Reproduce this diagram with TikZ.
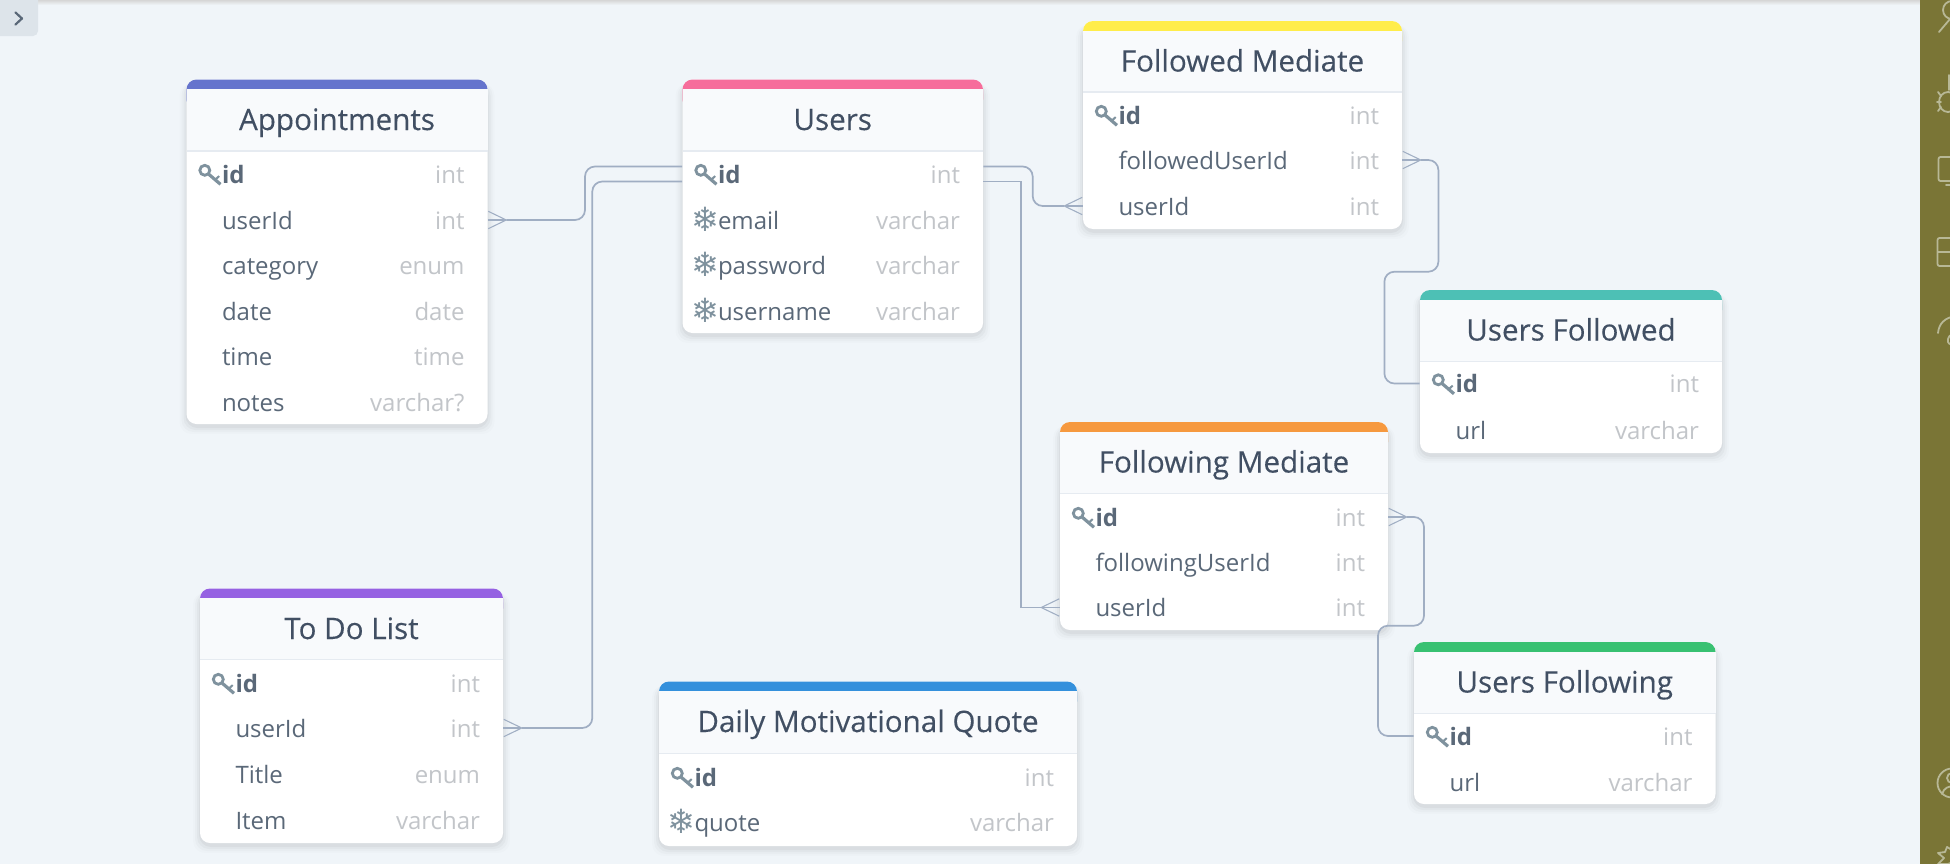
\documentclass[tikz,border=0pt]{standalone}
\usepackage{fontspec}
\setmainfont{Open Sans}
\newfontfamily\symfont{DejaVu Sans}
\newfontfamily\titlefont[FakeBold=0.25]{Open Sans}
\usetikzlibrary{arrows.meta}
\newdimen\px \px=0.75pt
\definecolor{bgc}{HTML}{F0F5F9}
\definecolor{headc}{HTML}{F8FAFC}
\definecolor{headline}{HTML}{E6EBF1}
\definecolor{titlec}{HTML}{414F63}
\definecolor{fieldc}{HTML}{5A6878}
\definecolor{typec}{HTML}{C2C5C9}
\definecolor{iconc}{HTML}{7F929E}
\definecolor{linec}{HTML}{A0AEC3}
\definecolor{sidec}{HTML}{7A7536}
\definecolor{sideicon}{HTML}{B8B896}
\definecolor{btnc}{HTML}{DDE4EA}
\definecolor{cindigo}{HTML}{6574CD}
\definecolor{cpink}{HTML}{F66D9B}
\definecolor{cyellow}{HTML}{FFED4A}
\definecolor{cteal}{HTML}{4DC0B5}
\definecolor{corange}{HTML}{F6993F}
\definecolor{cgreen}{HTML}{38C172}
\definecolor{cpurple}{HTML}{9561E2}
\definecolor{cblue}{HTML}{3490DC}
\tikzset{
  tablebody/.style={fill=white,rounded corners=10\px,draw=none},
  tablestrip/.style={rounded corners=10\px,draw=none},
  titlenode/.style={inner sep=0pt,anchor=base,text=titlec,font=\titlefont\fontsize{22.2}{26}\selectfont},
  rownode/.style={inner xsep=0pt,inner ysep=0pt,text height=24\px,text depth=6\px,text=fieldc,font=\fontsize{18}{22}\selectfont},
  conn/.style={draw=linec,line width=1.7\px,rounded corners=10\px},
  sharpconn/.style={draw=linec,line width=1.7\px},
  crow/.style={-{Straight Barb[reversed,length=13.5pt,width=13pt,line width=0.8pt]}},
  keyline/.style={draw=iconc,line width=1.8\px},
  sideline/.style={draw=sideicon,line width=1.8\px,line cap=round},
  pics/keyicon/.style={code={
    \draw[keyline,line width=2.8\px] (7.3,-3.7) circle (5);
    \draw[keyline,line width=3.2\px] (11,0) -- (23,10.3);
    \draw[keyline,line width=2\px] (17,6.5) -- (21.7,2);
  }}
}
% #1 x1 #2 x2 #3 top #4 header bottom #5 table bottom #6 colour
\newcommand{\ertable}[6]{%
  \foreach \s/\o in {7/.012,5/.018,3/.028,1/.035}{
    \fill[black,opacity=\o,rounded corners=12\px] (#1-\s,#3+4) rectangle (#2+\s,#5+3+\s);
  }
  \fill[tablebody] (#1,#3) rectangle (#2,#5);
  \fill[#6,tablestrip] (#1,#3) rectangle (#2,#3+30);
  \fill[headc] (#1,#3+9.5) rectangle (#2,#4);
  \draw[headline,line width=1.2\px] (#1,#4) -- (#2,#4);
}
% #1 name #2 x1 #3 x2 #4 table top #5 text
\newcommand{\ertitle}[5]{\node[titlenode] (#1) at ({(#2+#3)/2},#4+50.5) {#5};}
% #1 name #2 x1 #3 x2 #4 y #5 label #6 type
\newcommand{\fieldrow}[6]{%
  \pgfmathsetmacro\rowW{(#3-#2)*0.75}
  \node[rownode,text width=\rowW pt,anchor=center] (#1) at ({(#2+#3)/2},#4)
    {\hspace*{35.5\px}#5\hfill\textcolor{typec}{#6}\hspace*{23\px}};
}
\newcommand{\keyat}[2]{\pic at (#1+11,#2) {keyicon};}
\newcommand{\flakeat}[3]{\node[inner sep=0pt,text=iconc,font=\symfont\fontsize{25}{25}\selectfont] (#1) at (#2+22.5,#3-1) {❄};}
\begin{document}
\begin{tikzpicture}[x=0.75pt,y=-0.75pt]
\useasboundingbox (0,0) rectangle (1950,864);
\fill[bgc] (0,0) rectangle (1950,864);
% top shadow
\shade[top color=black!16,bottom color=bgc,draw=none] (0,0) rectangle (1920,5);
% sidebar
\fill[sidec] (1920,0) rectangle (1950,864);
\begin{scope}
\clip (1920,0) rectangle (1950,864);
\draw[sideline] (1939,32) -- (1950,19);
\draw[sideline] (1952,10) circle (9);
\draw[sideline] (1949,75) -- (1949,90);
\draw[sideline] (1948,102) ellipse (9 and 10);
\draw[sideline] (1938,92) -- (1941,96) (1937,102) -- (1941,102) (1938,111) -- (1941,107);
\draw[sideline,rounded corners=2\px] (1955,157) -- (1938.5,157) -- (1938.5,181) -- (1955,181);
\draw[sideline] (1946,185) -- (1955,185);
\draw[sideline,rounded corners=2\px] (1955,238) -- (1937.5,238) -- (1937.5,266) -- (1955,266);
\draw[sideline] (1938,252) -- (1955,252);
\draw[sideline] (1938,333) .. controls (1939,323) and (1945,318) .. (1955,316);
\draw[sideline] (1955,333) .. controls (1950,334) and (1947,338) .. (1948,342) .. controls (1949,345) and (1953,345) .. (1955,344);
\draw[sideline] (1952,783) circle (14.5);
\draw[sideline] (1952,778) circle (5);
\draw[sideline] (1942,794) .. controls (1944,788) and (1948,786) .. (1955,786);
\draw[sideline,line join=round] (1955,861) -- (1948,864) -- (1938,864) (1938,864) -- (1944,858) -- (1938,853) -- (1945,852) -- (1947,847) -- (1952,850);
\end{scope}
% collapse button
\fill[btnc,rounded corners=5\px] (-8,-8) rectangle (38,36);
\draw[draw=fieldc,line width=2.2\px,line cap=round,line join=round] (15.5,12.5) -- (22,18.5) -- (15.5,24.5);

% tables
\ertable{186.5}{487.5}{79.5}{151}{424}{cindigo}
\ertable{682.5}{983}{79.5}{151}{333}{cpink}
\ertable{1083}{1402}{21}{92}{229}{cyellow}
\ertable{1420}{1722}{290}{361.5}{453}{cteal}
\ertable{1060}{1388}{422}{493.5}{630}{corange}
\ertable{1414}{1715.5}{642}{713.5}{804}{cgreen}
\ertable{200}{503}{588.5}{659.5}{843}{cpurple}
\ertable{659}{1077}{681.5}{753.5}{846}{cblue}

\ertitle{tappt}{186.5}{487.5}{79.5}{Appointments}
\ertitle{tusers}{682.5}{983}{79.5}{Users}
\ertitle{tfmed}{1083}{1402}{21}{Followed Mediate}
\ertitle{tufol}{1420}{1722}{290}{Users Followed}
\ertitle{tgmed}{1060}{1388}{422}{Following Mediate}
\ertitle{tugol}{1414}{1715.5}{642}{Users Following}
\ertitle{ttodo}{200}{503}{588.5}{To Do List}
\ertitle{tquote}{659}{1077}{681.5}{Daily Motivational Quote}

% appointments rows
\fieldrow{apptId}{186.5}{487.5}{174}{\textbf{id}}{int}\keyat{186.5}{174}
\fieldrow{apptUser}{186.5}{487.5}{220}{userId}{int}
\fieldrow{apptCat}{186.5}{487.5}{265}{category}{enum}
\fieldrow{apptDate}{186.5}{487.5}{311}{date}{date}
\fieldrow{apptTime}{186.5}{487.5}{356}{time}{time}
\fieldrow{apptNotes}{186.5}{487.5}{402}{notes}{varchar?}
% users rows
\fieldrow{usersId}{682.5}{983}{174}{\textbf{id}}{int}\keyat{682.5}{174}
\fieldrow{usersEmail}{682.5}{983}{220}{email}{varchar}\flakeat{fe}{682.5}{220}
\fieldrow{usersPass}{682.5}{983}{265}{password}{varchar}\flakeat{fp}{682.5}{265}
\fieldrow{usersName}{682.5}{983}{311}{username}{varchar}\flakeat{fn}{682.5}{311}
% followed mediate rows
\fieldrow{fmedId}{1083}{1402}{115}{\textbf{id}}{int}\keyat{1083}{115}
\fieldrow{fmedFollowed}{1083}{1402}{160}{followedUserId}{int}
\fieldrow{fmedUser}{1083}{1402}{206}{userId}{int}
% users followed rows
\fieldrow{ufolId}{1420}{1722}{383.5}{\textbf{id}}{int}\keyat{1420}{383.5}
\fieldrow{ufolUrl}{1420}{1722}{430}{url}{varchar}
% following mediate rows
\fieldrow{gmedId}{1060}{1388}{517}{\textbf{id}}{int}\keyat{1060}{517}
\fieldrow{gmedFollowing}{1060}{1388}{562}{followingUserId}{int}
\fieldrow{gmedUser}{1060}{1388}{607.5}{userId}{int}
% users following rows
\fieldrow{ugolId}{1414}{1715.5}{736}{\textbf{id}}{int}\keyat{1414}{736}
\fieldrow{ugolUrl}{1414}{1715.5}{782}{url}{varchar}
% to do rows
\fieldrow{todoId}{200}{503}{683}{\textbf{id}}{int}\keyat{200}{683}
\fieldrow{todoUser}{200}{503}{728}{userId}{int}
\fieldrow{todoTitle}{200}{503}{774}{Title}{enum}
\fieldrow{todoItem}{200}{503}{820}{Item}{varchar}
% quote rows
\fieldrow{quoteId}{659}{1077}{777}{\textbf{id}}{int}\keyat{659}{777}
\fieldrow{quoteText}{659}{1077}{822}{quote}{varchar}\flakeat{fq}{659}{822}

% connectors
\coordinate (b1) at (585,0);
\coordinate (b2) at (592.3,0);
\coordinate (b3) at (1032.7,0);
\coordinate (b4) at (1021.3,0);
\coordinate (b5) at (1438.4,0);
\coordinate (b6) at (1384.4,0);
\coordinate (b7) at (1424,0);
\coordinate (b8) at (1378,0);
\coordinate (uA) at ([yshift=7.5\px]usersId.west);
\coordinate (uB) at ([yshift=-7.5\px]usersId.west);
\coordinate (uC) at ([yshift=7.5\px]usersId.east);
\coordinate (uD) at ([yshift=-7.5\px]usersId.east);
\coordinate (m1) at (0,271.7);
\coordinate (m2) at (0,625.7);

\draw[conn,crow] (uA) -- (uA -| b1) -- (apptUser.east -| b1) -- (apptUser.east);
\draw[conn,crow] (uB) -- (uB -| b2) -- (todoUser.east -| b2) -- (todoUser.east);
\draw[conn,crow] (uC) -- (uC -| b3) -- (fmedUser.west -| b3) -- (fmedUser.west);
\draw[sharpconn,crow] (uD) -- (uD -| b4) -- (gmedUser.west -| b4) -- (gmedUser.west);
\draw[conn,crow] (ufolId.west) -- (ufolId.west -| b6) -- (b6 |- m1) -- (b5 |- m1) -- (fmedFollowed.east -| b5) -- (fmedFollowed.east);
\draw[conn,crow] (ugolId.west) -- (ugolId.west -| b8) -- (b8 |- m2) -- (b7 |- m2) -- (gmedId.east -| b7) -- (gmedId.east);
% middle prong of each crow's foot
\draw[sharpconn] (apptUser.east) -- ++(18,0);
\draw[sharpconn] (todoUser.east) -- ++(18,0);
\draw[sharpconn] (fmedUser.west) -- ++(-18,0);
\draw[sharpconn] (gmedUser.west) -- ++(-18,0);
\draw[sharpconn] (fmedFollowed.east) -- ++(18,0);
\draw[sharpconn] (gmedId.east) -- ++(18,0);
\end{tikzpicture}
\end{document}
